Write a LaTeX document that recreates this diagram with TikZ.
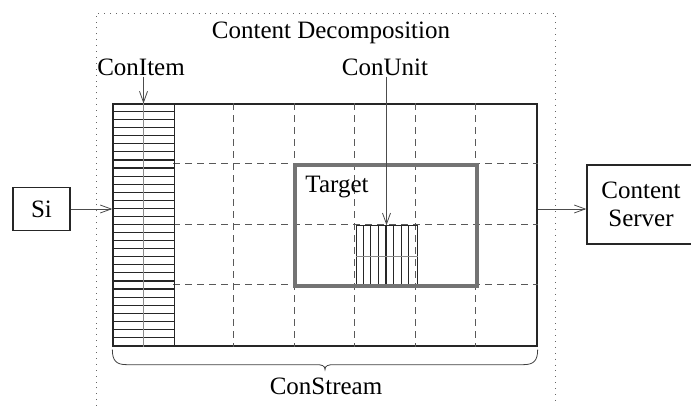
\documentclass[tikz,border=0pt]{standalone}
\usepackage{fontspec}
\setmainfont{Liberation Serif}
\usetikzlibrary{arrows.meta,calc}
\begin{document}
\begin{tikzpicture}[x=1pt,y=-1pt,
  font=\fontsize{25}{28}\selectfont,
  box/.style={draw=black!85,line width=1.3pt,inner sep=0pt,align=center},
  gridline/.style={draw=black!65,line width=0.9pt,dash pattern=on 7pt off 5pt},
  frameline/.style={draw=black!60,line width=0.9pt,dash pattern=on 0.9pt off 5pt},
  flow/.style={draw=black!70,line width=0.8pt,-{Straight Barb[length=11pt,width=8pt]}},
  lbl/.style={inner sep=1pt},
  stripe/.style={line width=1.1pt,draw=black!85},
  fine/.style={line width=0.6pt,draw=black!45},
  bracket/.style={line width=0.8pt,draw=black!75},
  ]
\useasboundingbox (0,0) rectangle (691,406);

% dotted frame of the decomposition
\draw[frameline] (96,406) -- (96,13) -- (555,13) -- (555,406);
\node[lbl] (title) at (331,33) {Content Decomposition};

% the content stream: 7 x 4 cells
\node[box,minimum width=424pt,minimum height=242pt] (stream) at (325,225) {};
\foreach \k in {2,...,6}
  \draw[gridline] ($(stream.north west)+(\k*60.57,0)$) -- ($(stream.south west)+(\k*60.57,0)$);
\foreach \j in {1,2,3}
  \draw[gridline] ($(stream.north west)+(61,\j*60.5)$) -- ($(stream.north east)+(0,\j*60.5)$);

% content items column
\node[box,line width=1pt,minimum width=61pt,minimum height=242pt] (itemcol) at (143.5,225) {};
\foreach \i in {1,...,29}
  \draw[stripe] ($(itemcol.north west)+(0,\i*8.0667)$) -- ($(itemcol.north east)+(0,\i*8.0667)$);
\draw[fine] (itemcol.north) -- (itemcol.south);

% content unit block
\node[box,line width=1pt,minimum width=61pt,minimum height=60.5pt] (unitblk) at (386.5,256) {};
\foreach \i in {1,...,7}
  \draw[stripe] ($(unitblk.north west)+(\i*7.625,0)$) -- ($(unitblk.south west)+(\i*7.625,0)$);
\draw[fine] (unitblk.west) -- (unitblk.east);

% target region
\node[draw=black!55,line width=4.5pt,inner sep=0pt,minimum width=182pt,minimum height=121pt] (target) at (386,225.5) {};
\node[lbl] (targetlbl) at (337,187) {Target};

% labels with pointers
\node[lbl] (conitem) at (141,67) {ConItem};
\draw[flow] (conitem.south -| itemcol.north) -- (itemcol.north);
\node[lbl] (conunit) at (385,67) {ConUnit};
\draw[flow] (conunit.south -| unitblk.north) -- (unitblk.north);

% source and server
\node[box,minimum width=57pt,minimum height=43pt] (si) at (41.5,209) {Si};
\draw[flow] (si.east) -- (si.east -| stream.west);
\node[box,minimum width=108pt,minimum height=79pt] (server) at (641,204.5) {Content\\Server};
\draw[flow] (si.east -| stream.east) -- (si.east -| server.west);

% stream brace
\coordinate (bl) at ($(stream.south west)+(0,3)$);
\coordinate (br) at ($(stream.south east)+(0,3)$);
\coordinate (bm) at ($(bl)!0.5!(br)$);
\draw[bracket] (bl) .. controls ($(bl)+(0,11)$) and ($(bl)+(4,15)$) .. ($(bl)+(14,15)$)
  -- ($(bm)+(-9,15)$) .. controls ($(bm)+(-3,15)$) and ($(bm)+(0,16)$) .. ($(bm)+(0,20)$)
  .. controls ($(bm)+(0,16)$) and ($(bm)+(3,15)$) .. ($(bm)+(9,15)$)
  -- ($(br)+(-14,15)$) .. controls ($(br)+(-4,15)$) and ($(br)+(0,11)$) .. (br);
\node[lbl] (constream) at (326,386) {ConStream};
\end{tikzpicture}
\end{document}
